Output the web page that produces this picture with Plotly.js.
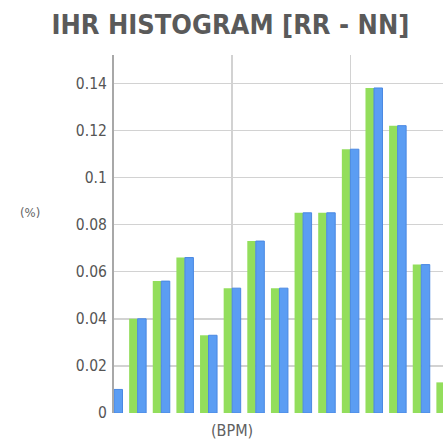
<!DOCTYPE html>
<html>
<head>
<meta charset="utf-8">
<script src="https://cdn.plot.ly/plotly-3.0.1.min.js"></script>
<style>html,body{margin:0;padding:0;background:#fff;}#chart{width:443px;height:441px;}</style>
</head>
<body>
<div id="chart"></div>
<script>
// Bin index along the BPM axis (no tick labels shown in the reference)
const bins = [0, 1, 2, 3, 4, 5, 6, 7, 8, 9, 10, 11, 12, 13, 14];
// Series values (fraction)
const rrValues = [0.010, 0.040, 0.056, 0.066, 0.033, 0.053, 0.073, 0.053, 0.085, 0.085, 0.112, 0.138, 0.122, 0.063, 0.013];
const nnValues = [0.010, 0.040, 0.056, 0.066, 0.033, 0.053, 0.073, 0.053, 0.085, 0.085, 0.112, 0.138, 0.122, 0.063, 0.013];
const yTickVals = [0, 0.02, 0.04, 0.06, 0.08, 0.1, 0.12, 0.14];
const yTickText = ["0", "0.02", "0.04", "0.06", "0.08", "0.1", "0.12", "0.14"];

const condensed = "DejaVu Sans Condensed, Liberation Sans Narrow, Roboto, sans-serif";

const traces = [
  {type: "bar", name: "RR", x: bins, y: rrValues,
   marker: {color: "#93de5c", line: {width: 0}}},
  {type: "bar", name: "NN", x: bins, y: nnValues,
   marker: {color: "#5b9df3", line: {color: "#4a88e2", width: 1}}}
];

const layout = {
  width: 443, height: 441,
  margin: {l: 114, r: 0, t: 55, b: 28},
  paper_bgcolor: "#ffffff", plot_bgcolor: "#ffffff",
  showlegend: false,
  barmode: "group", bargap: 0.28, bargroupgap: 0,
  title: {text: "<b>IHR HISTOGRAM [RR - NN]</b>",
          font: {family: condensed, size: 27, color: "#5a5a5a"},
          x: 0.52, xanchor: "center", xref: "container",
          y: 0.945, yanchor: "middle", yref: "container"},
  xaxis: {range: [0, 13.92], dtick: 5, tick0: 0, showticklabels: false,
          showgrid: true, gridcolor: "#d2d2d2", gridwidth: 1.5,
          zeroline: false, showline: false, ticks: "", fixedrange: true},
  yaxis: {range: [0, 0.152], tickvals: yTickVals, ticktext: yTickText,
          showgrid: true, gridcolor: "#d2d2d2", gridwidth: 1.5,
          zeroline: false, showline: true, linecolor: "#a8a8a8", linewidth: 2,
          ticks: "", ticklabelstandoff: 2,
          tickfont: {family: condensed, size: 15.5, color: "#555555"}},
  annotations: [
    {text: "(%)", xref: "paper", yref: "paper", x: -0.255, y: 0.561,
     xanchor: "center", yanchor: "middle", showarrow: false,
     font: {family: condensed, size: 13, color: "#666666"}},
    {text: "(BPM)", xref: "x", yref: "paper", x: 5, y: -0.05,
     xanchor: "center", yanchor: "middle", showarrow: false,
     font: {family: condensed, size: 16, color: "#606060"}}
  ]
};

Plotly.newPlot("chart", traces, layout, {displayModeBar: false, staticPlot: true});
</script>
</body>
</html>
